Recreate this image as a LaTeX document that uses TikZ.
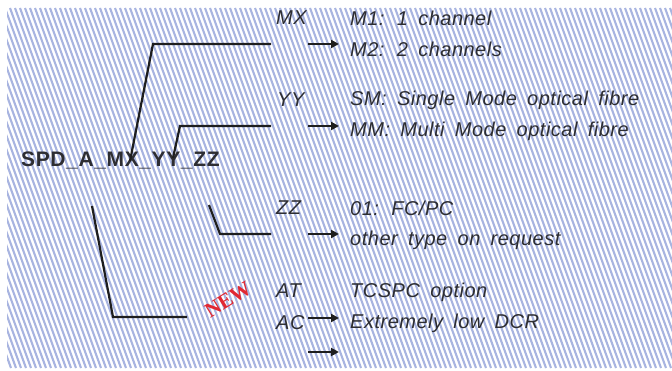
\documentclass[tikz,border=0pt]{standalone}
\usepackage{fontspec}
\setmainfont{Liberation Sans}
\newfontfamily\codefont[LetterSpace=3]{Liberation Sans}
\newfontfamily\lblfont[LetterSpace=2.5,WordSpace=1.7]{Liberation Sans}
\newfontfamily\newsfont{Liberation Serif}
\usetikzlibrary{arrows.meta}
\definecolor{stripe}{RGB}{168,180,224}
\definecolor{txt}{RGB}{45,45,50}
\definecolor{ink}{RGB}{30,30,30}
\definecolor{newred}{RGB}{225,40,50}
\tikzset{
  lbl/.style={font=\lblfont\itshape\fontsize{20}{20}\selectfont, text=txt, anchor=west, inner sep=0pt},
  conn/.style={draw=ink, line width=2.2pt},
  arr/.style={draw=ink, line width=2pt, -{Triangle[length=8pt,width=8pt]}},
}
\begin{document}
\begin{tikzpicture}[x=1pt,y=-1pt]
\useasboundingbox (0,0) rectangle (672,371);
% hatched background
\begin{scope}
\clip (7,8) rectangle (672,368);
\foreach \i in {-30,...,140} {
  \draw[stripe, line width=2.1pt] (\i*5,8) -- (\i*5+131,368);
}
\end{scope}
% code
\node[font=\codefont\bfseries\fontsize{21}{21}\selectfont, text=txt, anchor=west, inner sep=0pt] (code) at (21,160) {SPD\_A\_MX\_YY\_ZZ};
% group labels
\node[lbl] (mx) at (276,18) {MX};
\node[lbl] (yy) at (277,100) {YY};
\node[lbl] (zz) at (276,208) {ZZ};
\node[lbl] (at) at (276,291) {AT};
\node[lbl] (ac) at (276,323) {AC};
% descriptions
\node[lbl] (d1) at (350,18) {M1: 1 channel};
\node[lbl] (d2) at (350,49) {M2: 2 channels};
\node[lbl] (d3) at (350,100) {SM: Single Mode optical fibre};
\node[lbl] (d4) at (350,131) {MM: Multi Mode optical fibre};
\node[lbl] (d5) at (350,208) {01: FC/PC};
\node[lbl] (d6) at (350,240) {other type on request};
\node[lbl] (d7) at (350,292) {TCSPC option};
\node[lbl] (d8) at (350,323) {Extremely low DCR};
% NEW
\node[font=\newsfont\bfseries\fontsize{21}{21}\selectfont, text=newred, rotate=32, inner sep=0pt] (new) at (228,300) {NEW};
% connector coordinates
\coordinate (c1a) at (130,161); \coordinate (c1b) at (153,44); \coordinate (c1c) at (271,44);
\coordinate (c2a) at (173,158); \coordinate (c2b) at (180,126); \coordinate (c2c) at (271,126);
\coordinate (c3a) at (209,205); \coordinate (c3b) at (220,234); \coordinate (c3c) at (271,234);
\coordinate (c4a) at (92,206); \coordinate (c4b) at (113,317); \coordinate (c4c) at (187,317);
\draw[conn] (c1a) -- (c1b) -- (c1c);
\draw[conn] (c2a) -- (c2b) -- (c2c);
\draw[conn] (c3a) -- (c3b) -- (c3c);
\draw[conn] (c4a) -- (c4b) -- (c4c);
% arrows
\coordinate (a1s) at (308,44);  \coordinate (a1e) at (339,44);
\coordinate (a2s) at (308,126); \coordinate (a2e) at (339,126);
\coordinate (a3s) at (308,234); \coordinate (a3e) at (339,234);
\coordinate (a4s) at (308,318); \coordinate (a4e) at (339,318);
\coordinate (a5s) at (308,352); \coordinate (a5e) at (339,352);
\draw[arr] (a1s) -- (a1e);
\draw[arr] (a2s) -- (a2e);
\draw[arr] (a3s) -- (a3e);
\draw[arr] (a4s) -- (a4e);
\draw[arr] (a5s) -- (a5e);
\end{tikzpicture}
\end{document}
